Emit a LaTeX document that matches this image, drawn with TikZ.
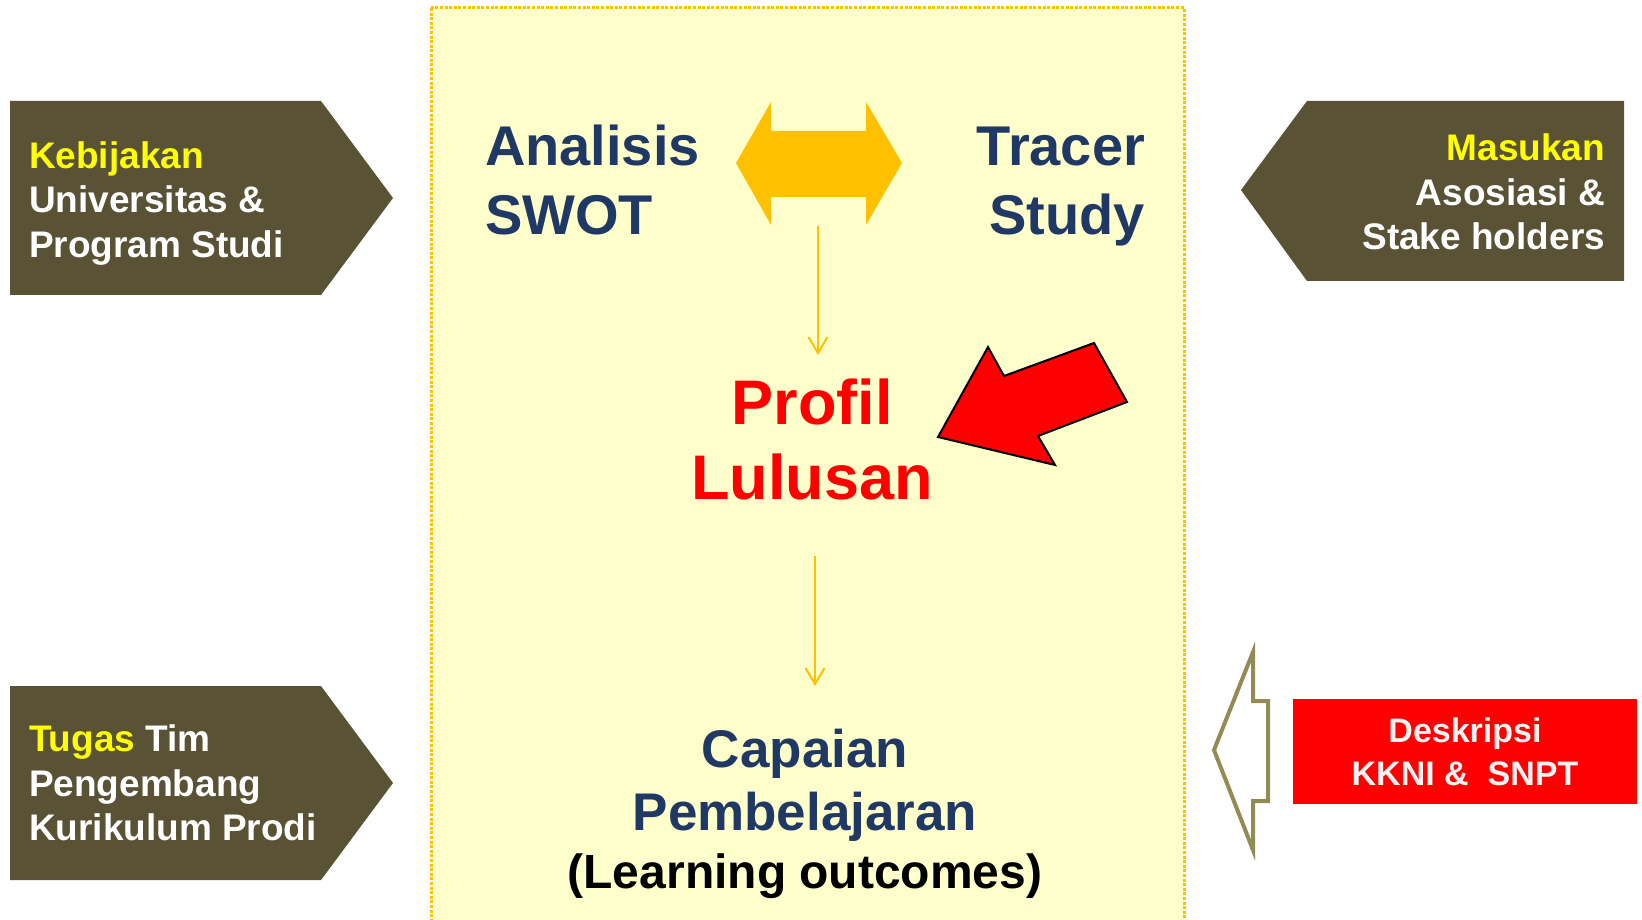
\documentclass[tikz,border=0pt]{standalone}
\usepackage{fontspec}
\setmainfont{Liberation Sans}
\usetikzlibrary{arrows.meta}

\definecolor{olivebox}{HTML}{595234}
\definecolor{navytext}{HTML}{1F3864}
\definecolor{amber}{HTML}{FFC000}
\definecolor{paleyellow}{HTML}{FFFFCC}
\definecolor{khaki}{HTML}{948A54}
\definecolor{signred}{HTML}{FF0000}
\definecolor{hiyellow}{HTML}{FFFF00}
\definecolor{softwhite}{HTML}{F2F2F2}

\begin{document}
\begin{tikzpicture}[x=1pt,y=-1pt,
  lbl/.style={inner sep=0pt, outer sep=0pt},
  tagbox/.style={fill=olivebox},
  flow/.style={draw=amber, line width=2pt, -{Straight Barb[length=16pt,width=19pt]}},
  sidefont/.style={font=\fontsize{37}{44.5}\selectfont\bfseries},
  headfont/.style={font=\fontsize{56}{69}\selectfont\bfseries, text=navytext},
]
\useasboundingbox (0,0) rectangle (1642,920);
\clip (0,0) rectangle (1642,920);

% central working area
\filldraw[fill=paleyellow, draw=amber, line width=3pt, dash pattern=on 3pt off 1.6pt]
  (431,8) rectangle (1184,940);

% left and right input tags
\fill[tagbox] (10,101) -- (321,101) -- (393,198) -- (321,295) -- (10,295) -- cycle;
\fill[tagbox] (10,686) -- (321,686) -- (393,783) -- (321,880) -- (10,880) -- cycle;
\fill[tagbox] (1624,101) -- (1307,101) -- (1241,190) -- (1307,281) -- (1624,281) -- cycle;

\node[lbl, sidefont, anchor=base west] (kebijakan) at (29,168.3)
  {\begin{tabular}[t]{@{}l@{}}\textcolor{hiyellow}{Kebijakan}\\
   \textcolor{white}{Universitas \&}\\ \textcolor{white}{Program Studi}\end{tabular}};
\node[lbl, sidefont, anchor=base west] (tugas) at (29,751.7)
  {\begin{tabular}[t]{@{}l@{}}\textcolor{hiyellow}{Tugas}\ \textcolor{white}{Tim}\\
   \textcolor{white}{Pengembang}\\ \textcolor{white}{Kurikulum Prodi}\end{tabular}};
\node[lbl, sidefont, anchor=base east] (masukan) at (1605,160.7)
  {\begin{tabular}[t]{@{}r@{}}\textcolor{hiyellow}{Masukan}\\
   \textcolor{white}{Asosiasi \&}\\ \textcolor{white}{Stake holders}\end{tabular}};

% national framework box with hollow arrow
\fill[signred] (1293,699) rectangle (1637,804);
\node[lbl, font=\fontsize{34}{43}\selectfont\bfseries, text=softwhite, anchor=base] (deskripsi) at (1465,742)
  {\begin{tabular}[t]{@{}c@{}}Deskripsi\\ KKNI \&\ \ SNPT\end{tabular}};
\filldraw[fill=white, draw=khaki, line width=4pt, line join=miter]
  (1214,750) -- (1253,652) -- (1253,701) -- (1268,701) -- (1268,801)
  -- (1253,801) -- (1253,850) -- cycle;

% two-way exchange between the analyses
\fill[amber] (736,163) -- (771,102) -- (771,131) -- (866,131) -- (866,102) -- (902,163)
  -- (866,225) -- (866,197) -- (771,197) -- (771,225) -- cycle;

\node[lbl, headfont, anchor=base west] (swot) at (485,165.5)
  {\begin{tabular}[t]{@{}l@{}}Analisis\\ SWOT\end{tabular}};
\node[lbl, headfont, anchor=base east] (tracer) at (1145,165.5)
  {\begin{tabular}[t]{@{}r@{}}Tracer\\ Study\end{tabular}};

\node[lbl, font=\fontsize{63}{75.5}\selectfont\bfseries, text=signred, anchor=base] (profil) at (812,424)
  {\begin{tabular}[t]{@{}c@{}}Profil\\ Lulusan\end{tabular}};

\node[lbl, font=\fontsize{53}{62.5}\selectfont\bfseries, text=navytext, anchor=base] (capaian) at (805,767.5)
  {\begin{tabular}[t]{@{}c@{}}Capaian\\ Pembelajaran\end{tabular}};
\node[lbl, font=\fontsize{48}{58}\selectfont\bfseries, text=black, anchor=base] (outcomes) at (805,888)
  {(Learning outcomes)};

% pointer at the graduate profile
\filldraw[fill=signred, draw=black, line width=2pt, line join=miter]
  (938,437) -- (988,347) -- (1004,376) -- (1094,343) -- (1127,402) -- (1038,436) -- (1055,465) -- cycle;

% flow of the design process
\coordinate (swapfoot) at (818,226);
\coordinate (profiltop) at (818,355);
\coordinate (profilfoot) at (815,556);
\coordinate (capaiantop) at (815,686);
\draw[flow] (swapfoot) -- (profiltop);
\draw[flow] (profilfoot) -- (capaiantop);
\end{tikzpicture}
\end{document}
